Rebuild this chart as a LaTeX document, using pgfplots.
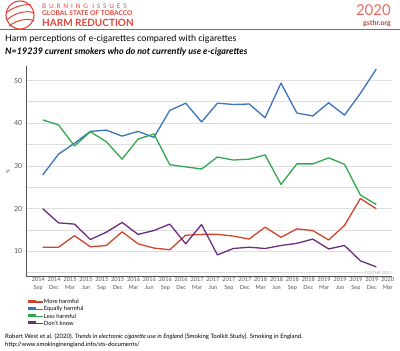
\documentclass[border=0pt]{standalone}
\usepackage{fontspec}
\setmainfont{Lato}
\usepackage{pgfplots}
\pgfplotsset{compat=1.18}
\definecolor{cRed}{HTML}{D1432C}
\definecolor{cBlue}{HTML}{3A72BE}
\definecolor{cGreen}{HTML}{2FA84F}
\definecolor{cPurple}{HTML}{6E2C80}
\definecolor{hRed}{HTML}{E2453A}
\definecolor{axGrey}{HTML}{555555}
\definecolor{gridGrey}{HTML}{DEDEDE}
\begin{document}
\begin{tikzpicture}[x=1pt,y=1pt]
\path[use as bounding box] (0,0) rectangle (400,351);
% header logo
\draw[hRed, line width=1.1pt] (20,336) circle (14);
\draw[hRed, line width=1pt] (7,331) .. controls (15,339) and (28,341) .. (34,338);
\draw[hRed, line width=1pt] (6,338) .. controls (16,346) and (27,347) .. (31,346);
\draw[hRed, line width=1pt] (9,325) .. controls (18,332) and (30,333) .. (34,330);
\node[anchor=west, text=hRed, inner sep=0pt, font=\fontsize{6.3}{7}\selectfont\addfontfeature{LetterSpace=45}] at (42,345) {BURNING ISSUES};
\node[anchor=west, text=hRed, inner sep=0pt, font=\fontsize{6.6}{7}\selectfont\bfseries] at (42,337.5) {GLOBAL STATE OF TOBACCO};
\node[anchor=west, text=hRed, inner sep=0pt, font=\fontsize{10}{11}\selectfont\bfseries] at (42,328.5) {HARM REDUCTION};
\node[anchor=east, text=hRed!80, inner sep=0pt, font=\fontsize{15}{16}\selectfont] at (391,341) {2020};
\node[anchor=east, text=hRed!85!black, inner sep=0pt, font=\fontsize{7}{8}\selectfont\bfseries] at (391,327.5) {gsthr.org};
\draw[hRed, line width=0.9pt] (0,322) -- (400,322);
% titles
\node[anchor=west, inner sep=0pt, font=\fontsize{9}{10}\selectfont] at (5,312) {Harm perceptions of e-cigarettes compared with cigarettes};
\node[anchor=west, inner sep=0pt, font=\fontsize{9}{10}\selectfont\bfseries\itshape] at (5,299.3) {N=19239 current smokers who do not currently use e-cigarettes};
% source
\node[anchor=west, inner sep=0pt, font=\fontsize{6}{7}\selectfont] at (5,14) {Robert West et al. (2020). \textit{Trends in electronic cigarette use in England} [Smoking Toolkit Study]. Smoking in England.};
\node[anchor=west, inner sep=0pt, font=\fontsize{6}{7}\selectfont] at (5,6) {http://www.smokinginengland.info/sts-documents/};
\begin{axis}[
  at={(26.5pt,74.3pt)}, anchor=south west,
  scale only axis, width=365.2pt, height=210.7pt,
  xmin=-0.74, xmax=22.25, ymin=4.1, ymax=53.4,
  axis x line*=bottom, axis y line*=left,
  axis line style={-, draw=axGrey, line width=0.8pt},
  major tick length=0pt, minor tick length=0pt,
  xtick={0,...,22},
  xticklabels={{2014\\Sep},{2014\\Dec},{2015\\Mar},{2015\\Jun},{2015\\Sep},{2015\\Dec},{2016\\Mar},{2016\\Jun},{2016\\Sep},{2016\\Dec},{2017\\Mar},{2017\\Jun},{2017\\Sep},{2017\\Dec},{2018\\Mar},{2018\\Jun},{2018\\Sep},{2018\\Dec},{2019\\Mar},{2019\\Jun},{2019\\Sep},{2019\\Dec},{2020\\Mar}},
  xticklabel style={align=center, font=\fontsize{5.6}{7.5}\selectfont, text=axGrey, inner sep=1pt},
  ytick={10,20,30,40,50},
  minor ytick={5,15,25,35,45},
  ymajorgrids, yminorgrids,
  major grid style={draw=gridGrey, line width=0.8pt},
  minor grid style={draw=gridGrey, line width=0.8pt},
  yticklabel style={font=\fontsize{7}{8}\selectfont, text=axGrey, inner sep=1pt, xshift=-3pt},
  /pgf/number format/assume math mode=true,
  ylabel={\%},
  ylabel style={font=\fontsize{5}{6}\selectfont, text=axGrey},
  legend style={at={(axis description cs:0.002,-0.107)}, anchor=north west, draw=none, fill=none,
    font=\fontsize{5.8}{6.5}\selectfont, row sep=2.3pt, column sep=0pt, inner sep=0pt,
    nodes={inner sep=0pt, text height=4pt, text depth=1pt}},
  legend cell align=left,
  legend image code/.code={\draw[#1, line width=1.8pt] (0pt,1.5pt) -- (8pt,1.5pt); \path (0pt,0pt) -- (15pt,0pt);},
  every axis plot/.append style={line width=1.3pt, mark=none, line join=round},
]
\addplot[cRed] coordinates {(0.28,11.0)(1.28,11.0)(2.28,13.7)(3.28,11.1)(4.28,11.4)(5.28,14.6)(6.28,11.8)(7.28,10.8)(8.28,10.4)(9.28,13.8)(10.28,14.0)(11.28,14.0)(12.28,13.6)(13.28,12.9)(14.28,15.7)(15.28,13.3)(16.28,15.3)(17.28,14.9)(18.28,12.7)(19.28,16.1)(20.28,22.4)(21.28,20.0)};
\addlegendentry{More harmful}
\addplot[cBlue] coordinates {(0.28,27.9)(1.28,32.8)(2.28,35.3)(3.28,38.1)(4.28,38.4)(5.28,37.0)(6.28,38.1)(7.28,36.7)(8.28,43.0)(9.28,44.7)(10.28,40.3)(11.28,44.7)(12.28,44.4)(13.28,44.5)(14.28,41.3)(15.28,49.4)(16.28,42.4)(17.28,41.7)(18.28,44.8)(19.28,41.9)(20.28,47.0)(21.28,52.7)};
\addlegendentry{Equally harmful}
\addplot[cGreen] coordinates {(0.28,40.8)(1.28,39.6)(2.28,34.7)(3.28,38.0)(4.28,35.7)(5.28,31.6)(6.28,36.3)(7.28,37.5)(8.28,30.3)(9.28,29.8)(10.28,29.3)(11.28,32.1)(12.28,31.4)(13.28,31.6)(14.28,32.6)(15.28,25.7)(16.28,30.5)(17.28,30.5)(18.28,31.9)(19.28,30.4)(20.28,23.2)(21.28,21.0)};
\addlegendentry{Less harmful}
\addplot[cPurple] coordinates {(0.28,20.0)(1.28,16.7)(2.28,16.4)(3.28,12.8)(4.28,14.5)(5.28,16.8)(6.28,14.0)(7.28,14.9)(8.28,16.4)(9.28,11.8)(10.28,16.3)(11.28,9.2)(12.28,10.7)(13.28,11.0)(14.28,10.7)(15.28,11.4)(16.28,11.9)(17.28,12.9)(18.28,10.6)(19.28,11.4)(20.28,7.8)(21.28,6.4)};
\addlegendentry{Don't know}
\node[anchor=east, fill=white, inner sep=0.5pt, text=gray!70, font=\fontsize{4}{5}\selectfont] at (axis cs:22.25,5) {\copyright GSTHR 2020};
\end{axis}
\end{tikzpicture}
\end{document}
